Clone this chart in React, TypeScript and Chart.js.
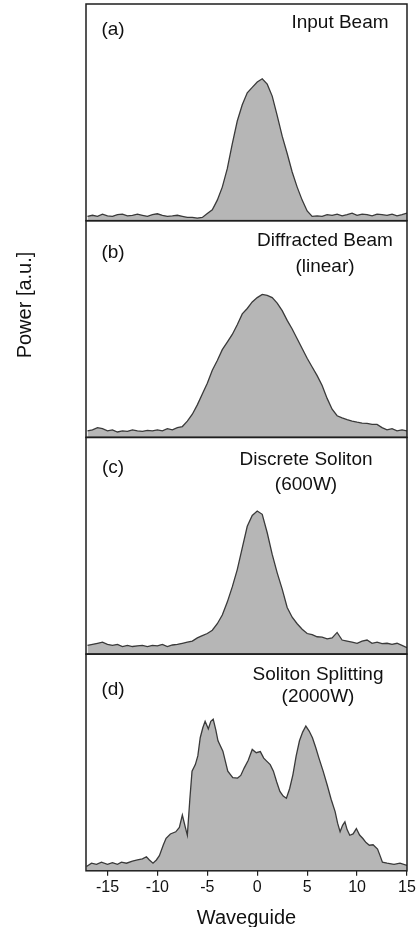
import { useEffect, useRef } from "react";
import { Chart, registerables } from "chart.js";

Chart.register(...registerables);

// shared waveguide grid for panels (a)-(c)
const waveguide = [
  -17, -16.5, -16, -15.5, -15, -14.5, -14, -13.5, -13, -12.5, -12, -11.5, -11, -10.5, -10, -9.5,
  -9, -8.5, -8, -7.5, -7, -6.5, -6, -5.5, -5, -4.5, -4, -3.5, -3, -2.5, -2, -1.5, -1, -0.5, 0,
  0.5, 1, 1.5, 2, 2.5, 3, 3.5, 4, 4.5, 5, 5.5, 6, 6.5, 7, 7.5, 8, 8.5, 9, 9.5, 10, 10.5, 11,
  11.5, 12, 12.5, 13, 13.5, 14, 14.5, 15,
];

const tickValues = [-15, -10, -5, 0, 5, 10, 15];

const inputBeam = [
  0.02, 0.025, 0.02, 0.03, 0.022, 0.02, 0.028, 0.03, 0.022, 0.025, 0.03, 0.025, 0.02, 0.028, 0.032, 0.025,
  0.02, 0.022, 0.025, 0.02, 0.015, 0.015, 0.012, 0.015,
  0.033, 0.05, 0.095, 0.155, 0.24, 0.355, 0.46, 0.535, 0.59, 0.615, 0.64, 0.655, 0.63, 0.575, 0.485,
  0.39, 0.31, 0.225, 0.155, 0.095, 0.045, 0.02,
  0.022, 0.02, 0.028, 0.025, 0.03, 0.022, 0.028, 0.035, 0.025, 0.03, 0.028, 0.022, 0.03, 0.028, 0.025,
  0.03, 0.022, 0.028, 0.035,
];

const diffractedBeam = [
  0.03, 0.035, 0.045, 0.04, 0.03, 0.035, 0.025, 0.03, 0.028, 0.035, 0.03, 0.028, 0.032, 0.03, 0.035, 0.03,
  0.04, 0.035, 0.045, 0.05, 0.075, 0.107, 0.15, 0.2,
  0.25, 0.31, 0.355, 0.405, 0.44, 0.475, 0.52, 0.57, 0.595, 0.625, 0.645, 0.66, 0.655, 0.645, 0.62,
  0.585, 0.54, 0.5, 0.455, 0.41, 0.365, 0.325,
  0.285, 0.24, 0.18, 0.13, 0.1, 0.09, 0.082, 0.075, 0.07, 0.066, 0.065, 0.06, 0.06, 0.045, 0.035, 0.04,
  0.03, 0.035, 0.03,
];

const discreteSoliton = [
  0.04, 0.045, 0.05, 0.055, 0.045, 0.04, 0.045, 0.035, 0.04, 0.035, 0.038, 0.04, 0.035, 0.04, 0.038, 0.045,
  0.035, 0.042, 0.045, 0.05, 0.055, 0.06, 0.075, 0.085,
  0.095, 0.11, 0.14, 0.18, 0.24, 0.31, 0.39, 0.49, 0.59, 0.64, 0.66, 0.645, 0.56, 0.46, 0.375, 0.3,
  0.215, 0.17, 0.14, 0.115, 0.095, 0.09,
  0.08, 0.078, 0.07, 0.075, 0.1, 0.065, 0.06, 0.055, 0.05, 0.06, 0.065, 0.05, 0.055, 0.048, 0.05, 0.045,
  0.05, 0.04, 0.03,
];

// panel (d) read at its own positions (finer structure)
const splittingWaveguide = [
  -17.1, -16.6, -16.1, -15.6, -15.0, -14.5, -14.0, -13.6, -13.1, -12.5, -12.0, -11.5, -11.1, -10.8,
  -10.44, -10.1, -9.8, -9.4, -9.13, -8.7, -8.16, -7.8, -7.5, -7.2, -7.0, -6.75, -6.53, -6.2, -5.95,
  -5.71, -5.45, -5.22, -4.9, -4.65, -4.41, -4.15, -3.93, -3.44, -2.95, -2.45, -1.97, -1.65, -1.31,
  -0.9, -0.5, -0.1, 0.31, 0.65, 0.97, 1.3, 1.62, 1.95, 2.27, 2.6, 2.92, 3.25, 3.57, 3.9, 4.23, 4.55,
  4.87, 5.2, 5.53, 5.85, 6.18, 6.6, 7.0, 7.4, 7.8, 8.05, 8.3, 8.55, 8.78, 9.0, 9.27, 9.6, 9.93,
  10.25, 10.58, 10.9, 11.23, 11.6, 12.05, 12.3, 12.54, 13.0, 13.7, 14.3, 15,
];
const solitonSplitting = [
  0.02, 0.035, 0.03, 0.04, 0.03, 0.038, 0.03, 0.04, 0.035, 0.045, 0.05, 0.055, 0.065, 0.05,
  0.035, 0.05, 0.07, 0.12, 0.15, 0.17, 0.18, 0.2, 0.257, 0.2, 0.164, 0.33, 0.46, 0.49, 0.53,
  0.614, 0.66, 0.69, 0.655, 0.69, 0.7, 0.65, 0.6, 0.552, 0.46, 0.43, 0.428, 0.44, 0.474,
  0.51, 0.56, 0.545, 0.55, 0.52, 0.505, 0.49, 0.46, 0.41, 0.366, 0.345, 0.335, 0.38, 0.443, 0.53, 0.6, 0.64,
  0.668, 0.645, 0.614, 0.57, 0.52, 0.46, 0.397, 0.33, 0.273, 0.22, 0.18, 0.21, 0.226, 0.19, 0.164, 0.17, 0.195,
  0.165, 0.149, 0.13, 0.118, 0.12, 0.1, 0.07, 0.04, 0.035, 0.03, 0.035, 0.025,
];

const panelTags = ["(a)", "(b)", "(c)", "(d)"];
const panelTitles = [
  ["Input Beam"],
  ["Diffracted Beam", "(linear)"],
  ["Discrete Soliton", "(600W)"],
  ["Soliton Splitting", "(2000W)"],
];
const panelX = [waveguide, waveguide, waveguide, splittingWaveguide];
const panelSeries = [inputBeam, diffractedBeam, discreteSoliton, solitonSplitting];
const panelAxisIds = ["yA", "yB", "yC", "yD"];

const FONT = '"Liberation Sans", Arial, Helvetica, sans-serif';

// layout (not data): offsets of annotations relative to panel
const tagX = 27;
const tagDy = [26, 32, 30, 36];
const titleX = [254, 239, 220, 232];
const titleDy = [[19], [20, 46], [22, 47], [21, 43]];

const decorPlugin = {
  id: "decor",
  afterDatasetsDraw(chart: any) {
    const ctx = chart.ctx as CanvasRenderingContext2D;
    const { left, right } = chart.chartArea;
    panelAxisIds.forEach((id, i) => {
      const s = chart.scales[id];
      ctx.save();
      ctx.strokeStyle = "#1e1e1e";
      ctx.lineWidth = 1.5;
      ctx.strokeRect(left, s.top, right - left, s.bottom - s.top);
      ctx.fillStyle = "#111";
      ctx.font = `19px ${FONT}`;
      ctx.textAlign = "center";
      ctx.textBaseline = "middle";
      ctx.fillText(panelTags[i], left + tagX, s.top + tagDy[i]);
      panelTitles[i].forEach((line, j) => {
        ctx.fillText(line, left + titleX[i], s.top + titleDy[i][j]);
      });
      ctx.restore();
    });
    ctx.save();
    ctx.fillStyle = "#111";
    ctx.font = `20px ${FONT}`;
    ctx.textAlign = "center";
    ctx.textBaseline = "middle";
    ctx.translate(25, 305);
    ctx.rotate(-Math.PI / 2);
    ctx.fillText("Power [a.u.]", 0, 0);
    ctx.restore();
  },
};

export default function App() {
  const ref = useRef<HTMLCanvasElement | null>(null);

  useEffect(() => {
    if (!ref.current) return;
    const yScale = () => ({
      type: "linear" as const,
      position: "left" as const,
      stack: "panels",
      stackWeight: 1,
      min: 0,
      max: 1,
      ticks: { display: false },
      grid: { display: false },
      border: { display: false },
    });
    const scales: any = {
      x: {
        type: "linear",
        min: -17.15,
        max: 15,
        afterBuildTicks: (axis: any) => {
          axis.ticks = tickValues.map((v) => ({ value: v }));
        },
        ticks: {
          color: "#111",
          font: { family: FONT, size: 16 },
          padding: 2,
          maxRotation: 0,
          autoSkip: false,
        },
        grid: {
          display: true,
          drawOnChartArea: false,
          drawTicks: true,
          tickLength: 5,
          color: "#222",
          lineWidth: 1.2,
        },
        border: { display: false },
        title: {
          display: true,
          text: "Waveguide",
          color: "#111",
          font: { family: FONT, size: 20 },
          padding: { top: 7, bottom: 0 },
        },
      },
    };
    // later-defined left axes are placed on top
    scales.yD = yScale();
    scales.yC = yScale();
    scales.yB = yScale();
    scales.yA = yScale();

    const chart = new Chart(ref.current, {
      type: "line",
      data: {
        datasets: panelSeries.map((series, i) => ({
          label: panelTags[i],
          data: panelX[i].map((x, k) => ({ x, y: series[k] })),
          yAxisID: panelAxisIds[i],
          borderColor: "#3a3a3a",
          borderWidth: 1.3,
          backgroundColor: "#b6b6b6",
          fill: "start",
          pointRadius: 0,
          tension: 0,
        })),
      },
      options: {
        animation: false,
        responsive: false,
        layout: { padding: { left: 78, right: 13, top: 4, bottom: -3 } },
        plugins: { legend: { display: false }, tooltip: { enabled: false } },
        scales,
      },
      plugins: [decorPlugin],
    });
    return () => chart.destroy();
  }, []);

  return (
    <div style={{ position: "absolute", left: 0, top: 0, width: 420, height: 927, background: "#fff" }}>
      <canvas ref={ref} width={420} height={927} style={{ display: "block" }} />
    </div>
  );
}
